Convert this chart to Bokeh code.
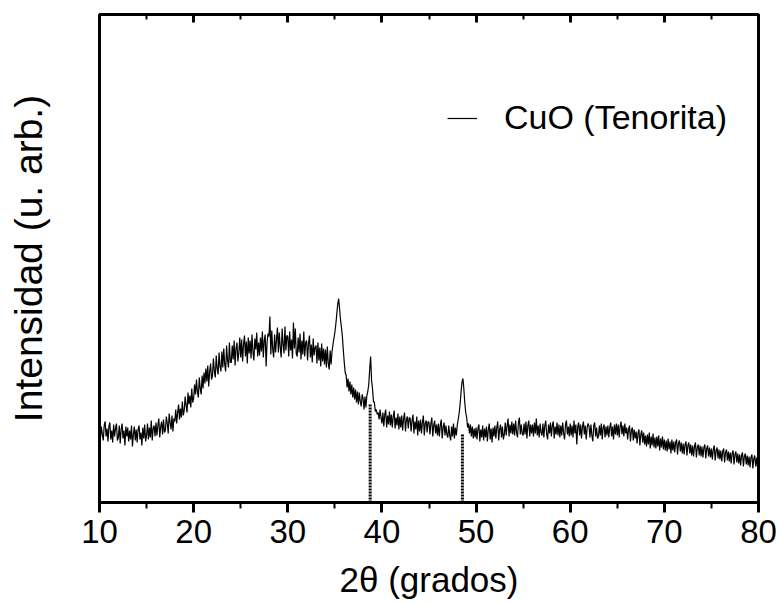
from bokeh.plotting import figure
from bokeh.models import Range1d, LinearAxis, SingleIntervalTicker, FixedTicker, Legend, LegendItem
from bokeh.embed import file_html
from bokeh.resources import INLINE

# ---- data ----
start_2theta = 10.0
step_2theta = 0.1
intensity = [
    79, 64, 76, 68, 62, 77, 81, 66, 74, 61,
    76, 80, 63, 72, 60, 78, 66, 74, 79, 62,
    65, 77, 59, 73, 79, 64, 72, 57, 76, 66,
    75, 61, 72, 63, 77, 56, 68, 76, 62, 73,
    60, 73, 77, 63, 70, 57, 75, 64, 78, 61,
    67, 79, 63, 75, 65, 82, 62, 74, 77, 66,
    80, 67, 77, 84, 65, 76, 81, 68, 83, 70,
    72, 86, 79, 69, 89, 80, 73, 87, 71, 84,
    81, 93, 79, 90, 98, 83, 94, 85, 101, 87,
    92, 106, 97, 90, 110, 98, 107, 95, 114, 100,
    104, 118, 108, 123, 111, 105, 125, 114, 108, 127,
    114, 130, 119, 134, 121, 137, 116, 131, 139, 123,
    127, 144, 131, 125, 147, 134, 128, 150, 136, 131,
    151, 135, 154, 138, 131, 157, 142, 135, 160, 140,
    140, 157, 143, 162, 137, 154, 160, 141, 150, 165,
    145, 163, 141, 158, 167, 146, 161, 139, 165, 149,
    162, 144, 168, 151, 142, 164, 153, 170, 146, 160,
    147, 165, 151, 171, 145, 162, 168, 136, 160, 169,
    166, 186, 148, 172, 153, 145, 168, 150, 163, 175,
    150, 170, 155, 145, 174, 158, 149, 176, 152, 167,
    166, 146, 171, 152, 163, 144, 180, 154, 174, 149,
    146, 165, 150, 169, 143, 162, 148, 171, 146, 160,
    162, 142, 159, 167, 145, 158, 140, 164, 147, 155,
    157, 139, 160, 142, 155, 136, 159, 141, 154, 138,
    153, 135, 156, 139, 133, 152, 138, 151, 158, 164,
    170, 178, 188, 198, 204, 194, 183, 175, 166, 152,
    140, 130, 127, 115, 124, 111, 121, 108, 118, 105,
    115, 103, 113, 100, 111, 98, 110, 101, 96, 108,
    104, 93, 106, 95, 107, 111, 118, 133, 146, 122,
    114, 101, 100, 91, 93, 88, 90, 83, 93, 85,
    79, 90, 76, 88, 93, 75, 87, 78, 91, 77,
    88, 75, 86, 92, 74, 85, 77, 89, 73, 86,
    75, 87, 72, 84, 90, 71, 83, 86, 74, 85,
    84, 71, 82, 88, 69, 81, 73, 86, 67, 82,
    71, 83, 69, 80, 87, 67, 79, 82, 70, 81,
    80, 68, 79, 85, 66, 77, 82, 69, 78, 67,
    79, 66, 77, 83, 64, 75, 80, 67, 77, 68,
    65, 77, 67, 62, 76, 66, 79, 64, 75, 67,
    77, 83, 89, 98, 110, 120, 124, 114, 100, 90,
    85, 75, 79, 69, 78, 66, 76, 64, 74, 65,
    75, 63, 74, 78, 61, 73, 65, 77, 62, 74,
    65, 76, 61, 73, 79, 63, 74, 60, 75, 66,
    77, 64, 75, 81, 62, 73, 78, 65, 76, 63,
    68, 80, 67, 77, 84, 66, 78, 69, 81, 68,
    79, 67, 82, 70, 65, 80, 85, 68, 78, 69,
    67, 79, 68, 81, 64, 77, 82, 66, 78, 69,
    78, 66, 80, 69, 84, 67, 77, 65, 79, 70,
    67, 79, 65, 77, 82, 68, 63, 78, 69, 80,
    66, 77, 81, 64, 76, 68, 80, 67, 78, 65,
    77, 67, 80, 69, 63, 78, 82, 68, 76, 66,
    79, 67, 77, 65, 82, 69, 78, 58, 76, 80,
    67, 78, 64, 76, 81, 68, 77, 63, 75, 79,
    76, 65, 78, 67, 61, 77, 80, 66, 75, 64,
    66, 77, 67, 79, 63, 75, 78, 65, 76, 67,
    77, 65, 75, 80, 66, 76, 63, 78, 68, 79,
    67, 78, 65, 76, 81, 68, 77, 66, 79, 69,
    75, 63, 73, 77, 61, 72, 75, 62, 73, 64,
    71, 59, 69, 73, 57, 68, 72, 60, 70, 58,
    67, 56, 68, 58, 70, 54, 66, 57, 69, 55,
    65, 54, 66, 56, 67, 52, 64, 55, 66, 53,
    63, 52, 62, 51, 64, 53, 61, 49, 63, 52,
    61, 50, 60, 63, 48, 59, 62, 51, 60, 49,
    59, 48, 58, 61, 47, 57, 60, 49, 58, 47,
    57, 46, 56, 60, 45, 55, 58, 47, 57, 46,
    56, 45, 55, 58, 44, 54, 57, 46, 55, 45,
    54, 43, 53, 57, 42, 52, 55, 44, 53, 43,
    52, 41, 51, 54, 40, 50, 53, 42, 51, 41,
    50, 39, 49, 52, 38, 48, 51, 40, 49, 39,
    48, 37, 47, 50, 36, 46, 49, 38, 47, 37,
    46, 35, 45, 48, 34, 44, 47, 36, 45, 35,
    40,
]
two_theta = [round(start_2theta + step_2theta * i, 1) for i in range(len(intensity))]

# CuO reference stick positions (2theta) and heights
ref_positions = [38.75, 48.55]
ref_heights = [99, 69]

x_ticks = [10, 20, 30, 40, 50, 60, 70, 80]
series_label = "CuO (Tenorita)"

FONT = "Liberation Sans"

p = figure(width=781, height=604, output_backend="svg", toolbar_location=None,
           x_range=Range1d(10, 80), y_range=Range1d(0, 488),
           min_border_left=99, min_border_right=23, min_border_top=14, min_border_bottom=102,
           x_axis_location=None, y_axis_location=None)
p.grid.visible = False
p.background_fill_color = "white"
p.border_fill_color = "white"
p.outline_line_color = "black"
p.outline_line_width = 3

ticker = SingleIntervalTicker(interval=10, num_minor_ticks=2)

xb = LinearAxis(ticker=ticker, axis_label="2θ (grados)")
xb.axis_line_width = 3
xb.major_tick_line_width = 3
xb.minor_tick_line_width = 2
xb.major_tick_out = 10
xb.major_tick_in = 0
xb.minor_tick_out = 6
xb.minor_tick_in = 0
xb.major_label_text_font = FONT
xb.major_label_text_font_size = "33px"
xb.major_label_text_color = "black"
xb.major_label_standoff = 7
xb.axis_label_text_font = FONT
xb.axis_label_text_font_size = "35px"
xb.axis_label_text_font_style = "normal"
xb.axis_label_text_color = "black"
xb.axis_label_standoff = 14
p.add_layout(xb, "below")

xt = LinearAxis(ticker=ticker)
xt.axis_line_width = 3
xt.major_tick_line_width = 3
xt.minor_tick_line_width = 2
xt.major_tick_out = 0
xt.major_tick_in = 8
xt.minor_tick_out = 0
xt.minor_tick_in = 5
xt.major_label_text_font_size = "0px"
xt.major_label_standoff = 0
p.add_layout(xt, "above")

yl = LinearAxis(ticker=FixedTicker(ticks=[]), axis_label="Intensidad (u. arb.)")
yl.axis_line_width = 3
yl.major_tick_out = 0
yl.major_tick_in = 0
yl.minor_tick_out = 0
yl.minor_tick_in = 0
yl.major_label_text_font_size = "0px"
yl.axis_label_text_font = FONT
yl.axis_label_text_font_size = "39px"
yl.axis_label_text_font_style = "normal"
yl.axis_label_text_color = "black"
yl.axis_label_standoff = 50
p.add_layout(yl, "left")

# reference sticks
p.segment(x0=ref_positions, y0=[0] * len(ref_positions), x1=ref_positions, y1=ref_heights,
          line_color="black", line_width=3, line_dash="2 1")

r = p.line(two_theta, intensity, line_color="black", line_width=1.2)

legend = Legend(items=[LegendItem(label=series_label, renderers=[r])],
                location=(348, 365))
legend.label_text_font = FONT
legend.label_text_font_size = "34px"
legend.label_text_color = "black"
legend.glyph_width = 30
legend.label_standoff = 27
legend.padding = 0
legend.margin = 0
legend.spacing = 0
legend.border_line_alpha = 0
legend.background_fill_alpha = 0
p.add_layout(legend, "center")

open("out.html", "w").write(file_html(p, INLINE))
